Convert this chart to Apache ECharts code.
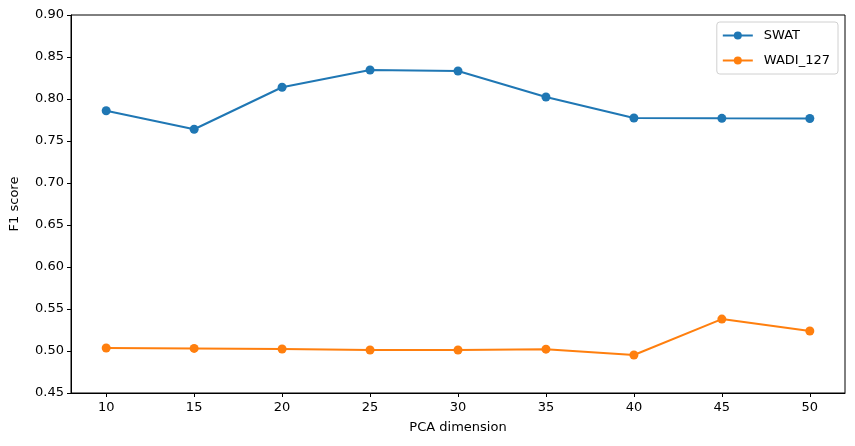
<!DOCTYPE html>
<html><head><meta charset="utf-8">
<script src="https://cdn.jsdelivr.net/npm/echarts@6/dist/echarts.min.js"></script>
<style>html,body{margin:0;padding:0;background:#fff}#c{width:855px;height:446px}</style>
</head><body><div id="c"></div>
<script>
const dims = [10, 15, 20, 25, 30, 35, 40, 45, 50];
const swat = [0.786, 0.764, 0.814, 0.8345, 0.8333, 0.8024, 0.7774, 0.777, 0.7768];
const wadi = [0.5036, 0.5031, 0.5024, 0.5012, 0.5012, 0.5022, 0.4952, 0.538, 0.5238];
const font = 'DejaVu Sans';
const chart = echarts.init(document.getElementById('c'), null, {renderer: 'canvas'});
chart.setOption({
  animation: false,
  textStyle: {fontFamily: font},
  grid: {left: 70, right: 10, top: 15, bottom: 53, show: true, borderColor: '#000', borderWidth: 1, backgroundColor: 'transparent'},
  legend: {
    right: 17, top: 22, orient: 'vertical', itemGap: 12, itemWidth: 30, itemHeight: 10,
    backgroundColor: '#fff', borderColor: '#d0d0d0', borderWidth: 1, borderRadius: 3, padding: [7, 8, 7, 5],
    textStyle: {fontFamily: font, fontSize: 13, color: '#000', padding: [0, 0, 0, 6]},
    data: ['SWAT', 'WADI_127']
  },
  xAxis: {
    type: 'value', min: 8, max: 52,
    name: 'PCA dimension', nameLocation: 'middle', nameGap: 28,
    nameTextStyle: {fontFamily: font, fontSize: 13, color: '#000'},
    axisLine: {show: true, onZero: false, lineStyle: {color: '#000'}},
    axisTick: {show: true, length: 4, lineStyle: {color: '#000'}, customValues: dims},
    axisLabel: {fontFamily: font, fontSize: 13, color: '#000', margin: 8, customValues: dims},
    splitLine: {show: false}
  },
  yAxis: {
    type: 'value', min: 0.45, max: 0.90, interval: 0.05,
    name: 'F1 score', nameLocation: 'middle', nameGap: 50,
    nameTextStyle: {fontFamily: font, fontSize: 13, color: '#000'},
    axisLine: {show: true, onZero: false, lineStyle: {color: '#000'}},
    axisTick: {show: true, length: 4, lineStyle: {color: '#000'}},
    axisLabel: {fontFamily: font, fontSize: 13, color: '#000', margin: 7, formatter: v => v.toFixed(2)},
    splitLine: {show: false}
  },
  series: [
    {name: 'SWAT', type: 'line', data: dims.map((d, i) => [d, swat[i]]), color: '#1f77b4',
     symbol: 'circle', symbolSize: 9, lineStyle: {width: 2}, itemStyle: {color: '#1f77b4'}},
    {name: 'WADI_127', type: 'line', data: dims.map((d, i) => [d, wadi[i]]), color: '#ff7f0e',
     symbol: 'circle', symbolSize: 9, lineStyle: {width: 2}, itemStyle: {color: '#ff7f0e'}}
  ]
});
</script></body></html>
